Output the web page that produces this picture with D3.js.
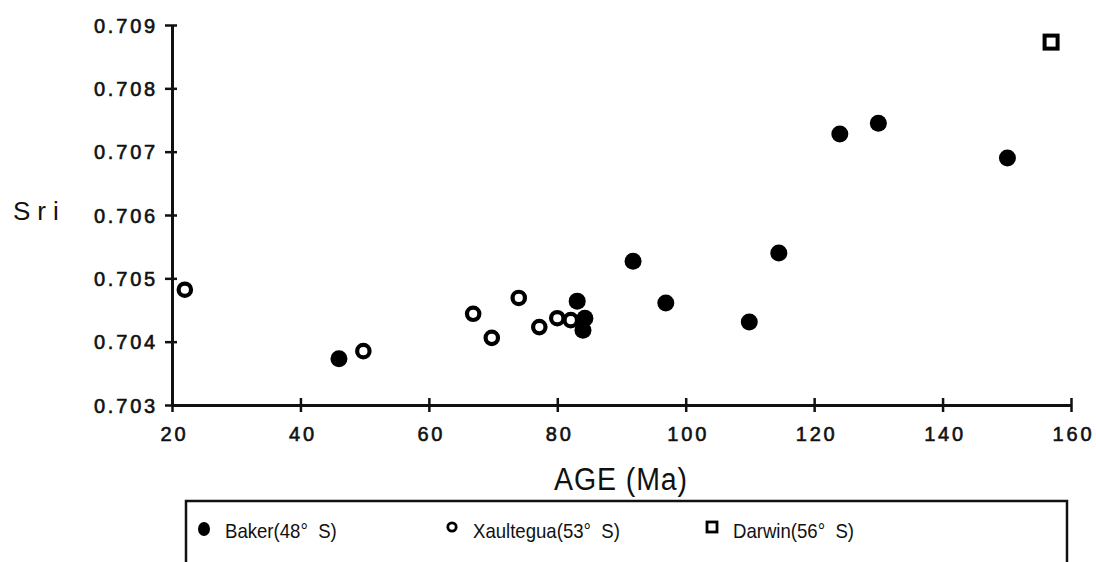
<!DOCTYPE html>
<html>
<head>
<meta charset="utf-8">
<script src="https://cdn.jsdelivr.net/npm/d3@7"></script>
<style>
  body { margin: 0; background: #fff; }
  svg { display: block; }
  .tick text { font-family: "Liberation Sans", Arial, sans-serif; font-size: 20px; fill: #111; letter-spacing: 2.8px; stroke: #111; stroke-width: 0.6px; }
  .narrow { font-family: "Liberation Sans Narrow", "Arial Narrow", "Liberation Sans", sans-serif; fill: #111; white-space: pre; }
</style>
</head>
<body>
<svg class="mainsvg" width="1096" height="562"></svg>
<script>
// Baker (48° S), filled circles
var bakerAge = [46.0, 84.3, 83.1, 84.0, 91.8, 96.9, 109.9, 114.5, 124.0, 130.0, 150.1];
var bakerSr  = [0.70373, 0.70437, 0.70464, 0.70418, 0.70527, 0.70461, 0.70431, 0.70540, 0.70728, 0.70745, 0.70690];

// Xaultegua (53° S), open circles
var xaulAge = [22.0, 49.8, 66.9, 69.8, 74.0, 77.2, 80.0, 82.1];
var xaulSr  = [0.70482, 0.70385, 0.70444, 0.70406, 0.70469, 0.70423, 0.70437, 0.70434];

// Darwin (56° S), open square
var darwinAge = [156.9];
var darwinSr  = [0.70873];

var xTicks = [20, 40, 60, 80, 100, 120, 140, 160];
var yTicks = [0.703, 0.704, 0.705, 0.706, 0.707, 0.708, 0.709];
var legendNames = ["Baker(48°  S)", "Xaultegua(53°  S)", "Darwin(56°  S)"];

var svg = d3.select(".mainsvg");

var x = d3.scaleLinear().domain([20, 160]).range([172, 1071]);
var y = d3.scaleLinear().domain([0.703, 0.709]).range([405, 25]);

// axes
var gx = svg.append("g")
    .attr("transform", "translate(0,405)")
    .call(d3.axisBottom(x).tickValues(xTicks).tickSize(7).tickSizeOuter(0).tickPadding(15));

var gy = svg.append("g")
    .attr("transform", "translate(172,0)")
    .call(d3.axisLeft(y).tickValues(yTicks).tickSize(7).tickSizeOuter(0)
          .tickPadding(7).tickFormat(d3.format(".3f")));

[gx, gy].forEach(function (g) {
    g.select(".domain").attr("stroke", "#111").attr("stroke-width", 3);
    g.selectAll(".tick line").attr("stroke", "#111").attr("stroke-width", 2.5);
});
// ticks cross the axis line
gx.selectAll(".tick line").attr("y1", -7);
gy.selectAll(".tick line").attr("x1", 5);
gy.selectAll(".tick text").attr("dy", "0.36em");
gx.selectAll(".tick text").attr("dx", "0.1em");

// axis titles
svg.append("text")
    .attr("x", 13).attr("y", 220)
    .attr("font-family", "Liberation Sans, Arial, sans-serif")
    .attr("font-size", 26).attr("letter-spacing", 7).attr("fill", "#111")
    .text("Sri");

svg.append("text")
    .attr("class", "narrow")
    .attr("transform", "translate(621,490) scale(0.92,1)")
    .attr("text-anchor", "middle")
    .attr("font-size", 31).attr("letter-spacing", 1)
    .text("AGE (Ma)");

// marks
svg.append("g").selectAll("circle")
    .data(d3.zip(bakerAge, bakerSr))
    .enter().append("circle")
    .attr("cx", function (d) { return x(d[0]); })
    .attr("cy", function (d) { return y(d[1]); })
    .attr("r", 8.5)
    .attr("fill", "#000");

svg.append("g").selectAll("circle")
    .data(d3.zip(xaulAge, xaulSr))
    .enter().append("circle")
    .attr("cx", function (d) { return x(d[0]); })
    .attr("cy", function (d) { return y(d[1]); })
    .attr("r", 6.2)
    .attr("fill", "#fff")
    .attr("stroke", "#000")
    .attr("stroke-width", 4.2);

svg.append("g").selectAll("rect")
    .data(d3.zip(darwinAge, darwinSr))
    .enter().append("rect")
    .attr("x", function (d) { return x(d[0]) - 6.5; })
    .attr("y", function (d) { return y(d[1]) - 6.5; })
    .attr("width", 13).attr("height", 13)
    .attr("fill", "#fff")
    .attr("stroke", "#000")
    .attr("stroke-width", 4);

// legend box (bottom edge cut off by the image)
svg.append("path")
    .attr("d", "M186,562V501H1067V562")
    .attr("fill", "none")
    .attr("stroke", "#111")
    .attr("stroke-width", 2.5);

var legX = [204, 452, 712];
var leg = svg.append("g").selectAll("g")
    .data(legendNames)
    .enter().append("g")
    .attr("transform", function (d, i) { return "translate(" + legX[i] + ",530)"; });

leg.append("text")
    .attr("class", "narrow")
    .attr("transform", "translate(21,8) scale(0.93,1)")
    .attr("font-size", 20)
    .text(function (d) { return d; });

leg.filter(function (d, i) { return i === 0; }).append("ellipse")
    .attr("rx", 6).attr("ry", 7).attr("cy", -1).attr("fill", "#000");
leg.filter(function (d, i) { return i === 1; }).append("circle")
    .attr("r", 4.2).attr("cy", -3).attr("fill", "#fff").attr("stroke", "#000").attr("stroke-width", 2.8);
leg.filter(function (d, i) { return i === 2; }).append("rect")
    .attr("x", -5).attr("y", -8).attr("width", 10).attr("height", 10)
    .attr("fill", "#fff").attr("stroke", "#000").attr("stroke-width", 2.8);
</script>
</body>
</html>
